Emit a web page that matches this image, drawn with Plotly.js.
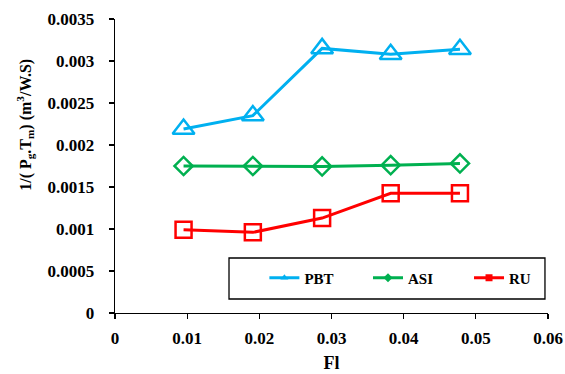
<!DOCTYPE html>
<html>
<head>
<meta charset="utf-8">
<script src="https://cdn.plot.ly/plotly-3.0.1.min.js"></script>
<style>
  html, body { margin: 0; padding: 0; background: #fff; }
  #chart { width: 565px; height: 374px; }
</style>
</head>
<body>
<div id="chart"></div>
<script>
// Fl values and 1/(Pg.Tm) for each material
const fl = [0.0095, 0.0191, 0.0287, 0.0382, 0.0478];
const pbt = [0.00219, 0.00235, 0.00315, 0.00308, 0.00314];
const asi = [0.00175, 0.00175, 0.001745, 0.00176, 0.00178];
const ru = [0.00099, 0.00096, 0.00113, 0.001425, 0.001425];
const seriesNames = ['PBT', 'ASI', 'RU'];
const xTicks = [0, 0.01, 0.02, 0.03, 0.04, 0.05, 0.06];
const xTickText = ['0', '0.01', '0.02', '0.03', '0.04', '0.05', '0.06'];
const yTicks = [0, 0.0005, 0.001, 0.0015, 0.002, 0.0025, 0.003, 0.0035];
const yTickText = ['0', '0.0005', '0.001', '0.0015', '0.002', '0.0025', '0.003', '0.0035'];

const colors = ['#00B0F0', '#00B050', '#FF0000'];
const openSymbols = ['triangle-up-open', 'diamond-open', 'square-open'];
const fillSymbols = ['triangle-up', 'diamond', 'square'];
const sizes = [19, 14, 16];
const values = [pbt, asi, ru];
const legendIds = ['legend', 'legend2', 'legend3'];

const traces = [];
// plotted series with open markers
values.forEach((v, i) => {
  traces.push({
    x: fl, y: v, type: 'scatter', mode: 'lines+markers',
    name: seriesNames[i], showlegend: false,
    line: { color: colors[i], width: 3 },
    marker: { symbol: openSymbols[i], size: sizes[i], color: colors[i],
              line: { color: colors[i], width: 2.5 } },
    hoverinfo: 'skip'
  });
});
// legend keys with small filled markers, one legend per key
values.forEach((v, i) => {
  traces.push({
    x: [null], y: [null], type: 'scatter', mode: 'lines+markers',
    name: seriesNames[i], showlegend: true, legend: legendIds[i],
    line: { color: colors[i], width: 3 },
    marker: { symbol: fillSymbols[i], size: 7, color: colors[i] }
  });
});

const serif = '"Liberation Serif", "Times New Roman", serif';
const boldFont = (size) => ({ family: serif, size: size, color: '#000', weight: 'bold' });

const legendStyle = (x) => ({
  orientation: 'v', x: x, y: 0.119, xanchor: 'left', yanchor: 'middle',
  bgcolor: 'rgba(0,0,0,0)', borderwidth: 0,
  font: boldFont(15), itemwidth: 30
});

const layout = {
  width: 565, height: 374,
  margin: { l: 115, r: 17, t: 19, b: 61 },
  paper_bgcolor: '#fff', plot_bgcolor: '#fff',
  font: { family: serif, color: '#000' },
  xaxis: {
    range: [0, 0.06], tickvals: xTicks, ticktext: xTickText,
    showgrid: false, zeroline: false,
    showline: true, linecolor: '#000', linewidth: 1.3,
    ticks: 'outside', ticklen: 5, tickwidth: 1.3, tickcolor: '#000',
    tickfont: boldFont(17), ticklabelstandoff: 4,
    title: { text: 'Fl', font: boldFont(18), standoff: 9 }
  },
  yaxis: {
    range: [0, 0.0035], tickvals: yTicks, ticktext: yTickText,
    showgrid: false, zeroline: false,
    showline: true, linecolor: '#000', linewidth: 1.3,
    ticks: 'outside', ticklen: 5, tickwidth: 1.3, tickcolor: '#000',
    tickfont: boldFont(17), ticklabelstandoff: 11
  },
  annotations: [{
    text: '1/( P<sub>g</sub>.T<sub>m</sub>) (m<sup>3</sup>/W.S)',
    xref: 'paper', yref: 'paper', x: -0.208, y: 0.64,
    xanchor: 'center', yanchor: 'middle', textangle: -90,
    showarrow: false, font: boldFont(16)
  }],
  shapes: [{
    type: 'rect', xref: 'paper', yref: 'paper',
    x0: 0.2633, x1: 0.993, y0: 0.0476, y1: 0.187,
    line: { color: '#000', width: 1.3 }, fillcolor: '#fff', layer: 'above'
  }],
  showlegend: true,
  legend: legendStyle(0.345),
  legend2: legendStyle(0.5843),
  legend3: legendStyle(0.8176)
};

Plotly.newPlot('chart', traces, layout, { displayModeBar: false, staticPlot: true });
</script>
</body>
</html>
